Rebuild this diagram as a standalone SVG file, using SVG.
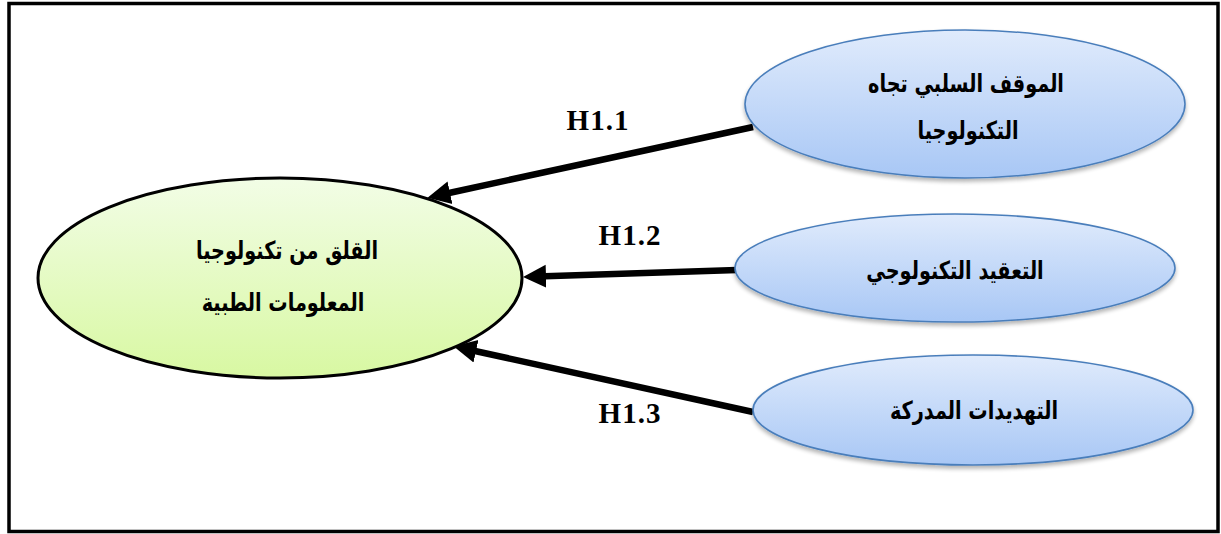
<svg xmlns="http://www.w3.org/2000/svg" width="1221" height="534" viewBox="0 0 1221 534">
<style>
.ar{font-family:"DejaVu Sans","Noto Sans",sans-serif;font-weight:bold;font-size:25px;fill:#000;text-anchor:middle;direction:rtl}
.lbl{font-family:"Liberation Serif",serif;font-weight:bold;font-size:29px;fill:#000;text-anchor:middle;letter-spacing:1px}
.blue{fill:url(#gb);stroke:#4a7ebb;stroke-width:1.6;filter:url(#sh)}
.conn{stroke:#000;stroke-width:6.5;fill:none;marker-end:url(#ah)}
</style>
<defs>
<linearGradient id="gg" x1="0" y1="0" x2="0" y2="1">
<stop offset="0" stop-color="#f2fde6"/>
<stop offset="1" stop-color="#d8f8a2"/>
</linearGradient>
<linearGradient id="gb" x1="0" y1="0" x2="0" y2="1">
<stop offset="0" stop-color="#e0ebfc"/>
<stop offset="1" stop-color="#a8c7f5"/>
</linearGradient>
<filter id="sh" x="-10%" y="-10%" width="120%" height="130%">
<feGaussianBlur in="SourceAlpha" stdDeviation="2"/>
<feOffset dx="0" dy="3" result="b"/>
<feComponentTransfer><feFuncA type="linear" slope="0.3"/></feComponentTransfer>
<feMerge><feMergeNode/><feMergeNode in="SourceGraphic"/></feMerge>
</filter>
<marker id="ah" viewBox="0 -12 24 24" markerWidth="24" markerHeight="24" refX="1" refY="0" markerUnits="userSpaceOnUse" orient="auto">
<path d="M0,-11.5 L23,0 L0,11.5 z" fill="#000"/>
</marker>
</defs>
<rect x="9" y="3.5" width="1209" height="528" fill="#fff" stroke="#000" stroke-width="3.5"/>
<g id="connectors">
<path class="conn" d="M753,127 L449,193"/>
<path class="conn" d="M737,270 L545,276.3"/>
<path class="conn" d="M753,412 L475,351"/>
<text class="lbl" x="598" y="130">H1.1</text>
<text class="lbl" x="630" y="245">H1.2</text>
<text class="lbl" x="630" y="423">H1.3</text>
</g>
<g id="node-anxiety">
<ellipse cx="280" cy="278" rx="242" ry="100" fill="url(#gg)" stroke="#000" stroke-width="3"/>
<text class="ar" transform="translate(287,259) scale(0.77,1)">القلق من تكنولوجيا</text>
<text class="ar" transform="translate(283,311) scale(0.77,1)">المعلومات الطبية</text>
</g>
<g id="node-attitude">
<ellipse class="blue" cx="965" cy="104" rx="220" ry="74"/>
<text class="ar" transform="translate(966,92) scale(0.77,1)">الموقف السلبي تجاه</text>
<text class="ar" transform="translate(968,139) scale(0.77,1)">التكنولوجيا</text>
</g>
<g id="node-complexity">
<ellipse class="blue" cx="955" cy="268" rx="220" ry="54"/>
<text class="ar" transform="translate(955,279) scale(0.77,1)">التعقيد التكنولوجي</text>
</g>
<g id="node-threats">
<ellipse class="blue" cx="973" cy="410" rx="220" ry="55"/>
<text class="ar" transform="translate(974,419) scale(0.77,1)">التهديدات المدركة</text>
</g>
</svg>
